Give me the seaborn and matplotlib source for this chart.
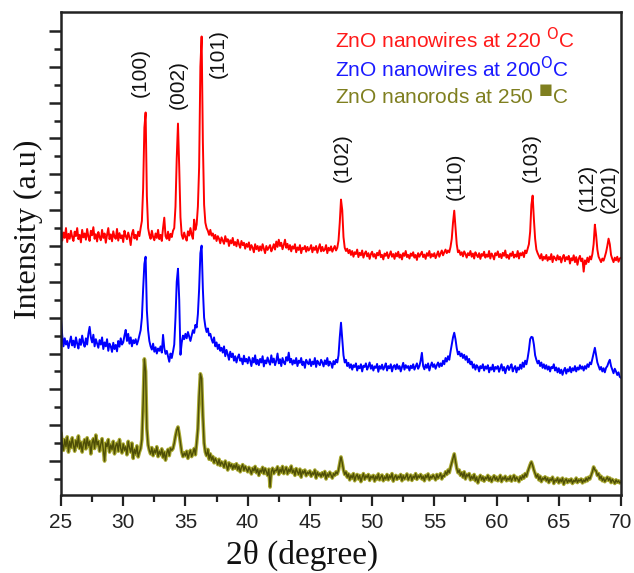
import numpy as np
import pandas as pd
import matplotlib
matplotlib.use("Agg")
import matplotlib.pyplot as plt
import seaborn as sns

# ---------------- data ----------------
two_theta = np.round(np.arange(25.0, 70.05, 0.1), 1)

red_220 = [
    290, 230, 275, 245, 300, 222, 268, 240, 285, 250,
    228, 280, 255, 300, 238, 262, 220, 290, 248, 270,
    235, 295, 252, 228, 285, 260, 305, 240, 266, 225,
    278, 250, 232, 290, 245, 270, 218, 262, 300, 238,
    265, 226, 282, 250, 240, 295, 230, 272, 244, 260,
    222, 285, 255, 238, 275, 248, 205, 268, 290, 242,
    262, 235, 280, 255, 300, 340, 520, 860, 945, 480,
    300, 262, 240, 285, 250, 232, 270, 245, 290, 238,
    262, 228, 300, 358, 255, 240, 280, 232, 268, 250,
    285, 300, 420, 690, 883, 640, 360, 262, 240, 275,
    248, 230, 282, 258, 300, 262, 240, 347, 290, 320,
    420, 640, 1200, 1369, 780, 430, 330, 300, 285, 262,
    290, 258, 270, 240, 262, 228, 255, 240, 215, 248,
    230, 212, 255, 225, 238, 200, 232, 215, 245, 205,
    222, 198, 235, 210, 190, 228, 205, 218, 185, 212,
    195, 220, 178, 205, 190, 165, 210, 182, 200, 172,
    198, 175, 210, 185, 160, 200, 178, 192, 205, 170,
    188, 210, 180, 225, 195, 235, 200, 218, 182, 205,
    235, 190, 212, 180, 205, 170, 198, 185, 210, 165,
    192, 178, 205, 160, 190, 182, 200, 168, 195, 175,
    185, 205, 165, 192, 178, 200, 162, 188, 210, 170,
    195, 172, 180, 205, 160, 190, 175, 198, 168, 185,
    200, 175, 190, 230, 330, 459, 400, 250, 190, 172,
    185, 160, 178, 150, 172, 140, 165, 155, 180, 138,
    162, 148, 175, 135, 158, 170, 142, 160, 128, 155,
    168, 140, 155, 130, 162, 148, 175, 138, 150, 125,
    158, 145, 165, 132, 150, 170, 140, 155, 128, 160,
    142, 168, 135, 152, 125, 160, 145, 172, 138, 150,
    130, 158, 145, 165, 135, 150, 122, 160, 140, 155,
    168, 138, 152, 128, 160, 145, 172, 135, 155, 142,
    160, 132, 150, 170, 140, 158, 175, 148, 165, 180,
    160, 175, 165, 195, 240, 330, 397, 300, 210, 165,
    175, 150, 165, 142, 170, 155, 135, 160, 148, 172,
    140, 158, 130, 165, 150, 138, 160, 128, 155, 145,
    168, 135, 152, 140, 172, 130, 158, 145, 125, 160,
    148, 170, 138, 155, 132, 162, 145, 175, 135, 150,
    128, 158, 145, 168, 135, 152, 140, 172, 130, 160,
    148, 165, 138, 175, 160, 185, 210, 280, 430, 481,
    350, 240, 180, 160, 145, 130, 155, 120, 140, 128,
    150, 118, 138, 125, 155, 110, 142, 132, 120, 148,
    125, 140, 108, 135, 150, 115, 138, 125, 145, 102,
    132, 120, 148, 110, 138, 95, 128, 145, 115, 130,
    57, 120, 100, 135, 110, 142, 125, 155, 210, 319,
    260, 180, 140, 125, 110, 130, 118, 140, 165, 200,
    241, 210, 150, 128, 110, 135, 120, 140, 112, 130,
    135,
]

blue_200 = [
    388, 300, 240, 285, 250, 270, 230, 262, 295, 245,
    272, 235, 290, 255, 228, 280, 248, 300, 260, 238,
    285, 250, 310, 349, 290, 262, 305, 240, 280, 255,
    232, 275, 250, 290, 225, 262, 240, 280, 215, 255,
    240, 209, 260, 225, 248, 212, 270, 238, 285, 250,
    262, 300, 332, 270, 310, 255, 290, 240, 275, 258,
    280, 250, 272, 300, 330, 400, 560, 700, 740, 440,
    330, 270, 240, 222, 255, 210, 235, 200, 228, 215,
    240, 205, 304, 230, 198, 215, 185, 154, 200, 175,
    210, 250, 400, 600, 673, 500, 193, 260, 300, 280,
    310, 285, 320, 295, 270, 300, 330, 315, 360, 345,
    420, 560, 760, 802, 560, 400, 350, 320, 340, 300,
    310, 280, 260, 290, 240, 262, 225, 250, 215, 232,
    205, 240, 185, 220, 195, 165, 210, 180, 200, 160,
    185, 150, 178, 195, 160, 172, 140, 188, 155, 170,
    145, 180, 160, 130, 175, 150, 190, 140, 165, 135,
    170, 150, 185, 128, 162, 145, 178, 155, 138, 190,
    150, 172, 135, 160, 200, 145, 168, 130, 175, 150,
    140, 180, 160, 205, 150, 170, 138, 162, 145, 175,
    130, 160, 148, 175, 135, 155, 120, 165, 150, 140,
    168, 130, 155, 140, 175, 125, 160, 145, 135, 165,
    150, 128, 162, 140, 175, 132, 155, 145, 120, 158,
    140, 165, 150, 190, 290, 372, 280, 190, 150, 165,
    130, 148, 120, 140, 110, 135, 125, 145, 105, 130,
    118, 140, 100, 132, 125, 145, 110, 128, 150, 115,
    135, 105, 128, 120, 142, 98, 130, 115, 138, 110,
    125, 145, 105, 130, 118, 140, 100, 128, 135, 112,
    140, 115, 130, 100, 125, 148, 110, 135, 120, 130,
    105, 132, 118, 140, 110, 128, 145, 115, 130, 160,
    204, 130, 112, 138, 120, 145, 105, 130, 150, 125,
    140, 115, 135, 150, 125, 145, 130, 160, 140, 175,
    155, 185, 165, 210, 250, 290, 316, 280, 230, 195,
    210, 185, 200, 175, 193, 165, 185, 150, 170, 140,
    155, 120, 140, 110, 135, 125, 100, 130, 118, 140,
    105, 128, 115, 135, 95, 122, 110, 138, 100, 125,
    115, 130, 98, 120, 140, 105, 125, 90, 118, 132,
    108, 125, 140, 100, 118, 130, 95, 122, 110, 138,
    115, 150, 125, 160, 140, 175, 220, 280, 293, 290,
    250, 190, 165, 145, 160, 130, 150, 120, 140, 115,
    135, 110, 128, 100, 125, 118, 140, 105, 122, 95,
    118, 90, 110, 81, 105, 120, 88, 112, 100, 125,
    95, 118, 105, 130, 100, 122, 110, 135, 115, 128,
    105, 130, 115, 140, 125, 150, 140, 170, 200, 232,
    190, 150, 130, 110, 125, 100, 118, 95, 120, 130,
    150, 165, 130, 110, 90, 115, 100, 80, 95, 70,
    64,
]

olive_250 = [
    357, 300, 260, 320, 280, 335, 250, 310, 275, 330,
    290, 255, 315, 280, 340, 270, 305, 250, 295, 320,
    268, 330, 285, 310, 240, 300, 325, 270, 345, 290,
    310, 255, 295, 325, 265, 200, 300, 280, 320, 250,
    290, 265, 310, 240, 285, 300, 255, 320, 270, 245,
    295, 260, 280, 235, 310, 275, 250, 300, 215, 265,
    240, 285, 223, 250, 270, 320, 520, 770, 700, 380,
    290, 260, 240, 275, 230, 262, 245, 280, 225, 255,
    235, 268, 220, 250, 205, 245, 265, 230, 272, 260,
    270, 300, 340, 372, 390, 350, 300, 250, 225, 245,
    230, 255, 215, 240, 260, 225, 245, 270, 235, 300,
    380, 560, 687, 660, 450, 300, 250, 230, 265, 210,
    240, 205, 225, 190, 215, 200, 180, 210, 175, 195,
    185, 165, 200, 175, 150, 190, 168, 182, 155, 178,
    160, 185, 150, 172, 140, 165, 180, 148, 170, 155,
    140, 165, 150, 128, 160, 145, 170, 135, 155, 120,
    150, 138, 165, 130, 158, 142, 120, 155, 55, 140,
    160, 130, 150, 145, 168, 125, 155, 138, 170, 130,
    150, 165, 128, 155, 140, 172, 135, 150, 120, 158,
    140, 125, 155, 110, 145, 132, 150, 118, 138, 128,
    145, 115, 135, 125, 150, 105, 138, 120, 130, 112,
    135, 118, 142, 100, 128, 115, 138, 122, 105, 130,
    120, 140, 128, 150, 185, 223, 190, 150, 125, 140,
    110, 128, 95, 120, 105, 130, 90, 115, 125, 100,
    120, 85, 110, 130, 98, 118, 108, 125, 92, 115,
    105, 120, 88, 115, 100, 128, 95, 110, 122, 90,
    112, 100, 125, 95, 118, 105, 130, 88, 110, 120,
    98, 115, 105, 125, 90, 118, 100, 112, 128, 95,
    110, 122, 92, 115, 105, 130, 98, 118, 108, 125,
    100, 115, 90, 120, 108, 128, 95, 115, 105, 122,
    110, 95, 125, 105, 118, 130, 100, 120, 115, 140,
    125, 150, 135, 165, 190, 215, 240, 200, 160, 135,
    150, 120, 135, 110, 140, 100, 125, 115, 130, 95,
    115, 100, 125, 90, 110, 78, 105, 120, 95, 112,
    88, 108, 100, 120, 92, 110, 85, 105, 118, 95,
    110, 90, 102, 120, 85, 108, 98, 115, 90, 105,
    95, 115, 88, 105, 120, 92, 110, 100, 85, 112,
    98, 120, 105, 130, 115, 140, 160, 180, 195, 175,
    150, 130, 110, 125, 95, 115, 85, 105, 98, 112,
    90, 105, 80, 100, 92, 110, 75, 95, 88, 105,
    78, 98, 85, 105, 70, 92, 100, 80, 95, 85,
    100, 75, 92, 85, 105, 80, 95, 88, 100, 78,
    95, 85, 105, 90, 110, 100, 120, 140, 167, 150,
    145, 120, 130, 100, 115, 90, 105, 85, 98, 110,
    92, 105, 80, 98, 88, 75, 95, 82, 90, 78,
    83,
]

series_names = ["ZnO nanowires at 220 $^{\\rm O}$C",
                "ZnO nanowires at 200$^{\\rm O}$C",
                "ZnO nanorods at 250 $^{\\blacksquare}$C"]
series_offsets = [1200, 600, 0]          # vertical stacking (a.u.)
line_colors = ["#ff0000", "#0000ff", "#4e4e06"]
text_colors = ["#ff1a1a", "#1a1aff", "#7f7f1f"]

hkl_labels = ["(100)", "(002)", "(101)", "(102)", "(110)", "(103)", "(112)", "(201)"]
hkl_x = [31.35, 34.4, 37.62, 47.59, 56.67, 62.78, 67.25, 69.05]
hkl_y = [2368, 2301, 2474, 1893, 1787, 1893, 1726, 1720]

xticks = [25, 30, 35, 40, 45, 50, 55, 60, 65, 70]

# ---------------- figure ----------------
sns.set_theme(style="white")
plt.rcParams["font.family"] = ["Liberation Sans", "DejaVu Sans"]
plt.rcParams["mathtext.fontset"] = "dejavusans"

fig = plt.figure(figsize=(6.34, 5.73), dpi=100)
ax = fig.add_axes([61 / 634, 1 - 495 / 573, 560 / 634, 483 / 573])

frames = []
for name, vals, off in zip(series_names, [red_220, blue_200, olive_250], series_offsets):
    frames.append(pd.DataFrame({"two_theta": two_theta,
                                "intensity": np.array(vals, dtype=float) + off,
                                "series": name}))
df = pd.concat(frames, ignore_index=True)

# olive gets a lighter halo under a dark core, like the original rendering
olive_df = df[df["series"] == series_names[2]]
sns.lineplot(data=olive_df, x="two_theta", y="intensity", color="#a8a830",
             lw=2.6, ax=ax, legend=False, estimator=None, sort=False)
sns.lineplot(data=df, x="two_theta", y="intensity", hue="series",
             palette={n: c for n, c in zip(series_names, line_colors)},
             lw=1.4, ax=ax, legend=False, estimator=None, sort=False)
# olive core thinner than the others
ax.lines[-1].set_linewidth(1.0)

ax.set_xlim(25, 70)
ax.set_ylim(10.6, 2705.6)
ax.set_xticks(xticks)
ax.set_xticks(np.arange(27.5, 70, 5), minor=True)
ax.set_yticks(np.arange(200, 2700, 200))
ax.set_yticks(np.arange(100, 2700, 200), minor=True)
ax.set_yticklabels([])
ax.tick_params(axis="x", which="major", direction="out", length=8, width=1.6,
               labelsize=15, colors="#222222", pad=5, bottom=True)
ax.tick_params(axis="x", which="minor", direction="out", length=5, width=1.6,
               colors="#222222", bottom=True)
ax.tick_params(axis="y", which="major", direction="out", length=9, width=1.8,
               colors="#222222", left=True)
ax.tick_params(axis="y", which="minor", direction="out", length=5, width=1.8,
               colors="#222222", left=True)
for sp in ax.spines.values():
    sp.set_color("#222222")
    sp.set_linewidth(1.8)
ax.set_xlabel("")
ax.set_ylabel("")

# axis titles
fig.text(302 / 634, 1 - 540 / 573, "2θ (degree)", ha="center", va="top",
         fontsize=24, family=["Liberation Serif", "DejaVu Serif"], color="#111111")
fig.text(28 / 634, 1 - 229 / 573, "Intensity (a.u)", ha="center", va="center",
         rotation=90, fontsize=23, family=["Liberation Serif", "DejaVu Serif"],
         color="#111111")

# legend-like texts
for i, (name, col) in enumerate(zip(series_names, text_colors)):
    fig.text(335 / 634, 1 - (40 + 28.5 * i) / 573, name, ha="left", va="center",
             fontsize=15, color=col)

# peak labels
for lab, lx, ly in zip(hkl_labels, hkl_x, hkl_y):
    ax.text(lx, ly, lab, rotation=90, ha="center", va="center", fontsize=15,
            color="#111111")

fig.savefig("out.png", dpi=100)
